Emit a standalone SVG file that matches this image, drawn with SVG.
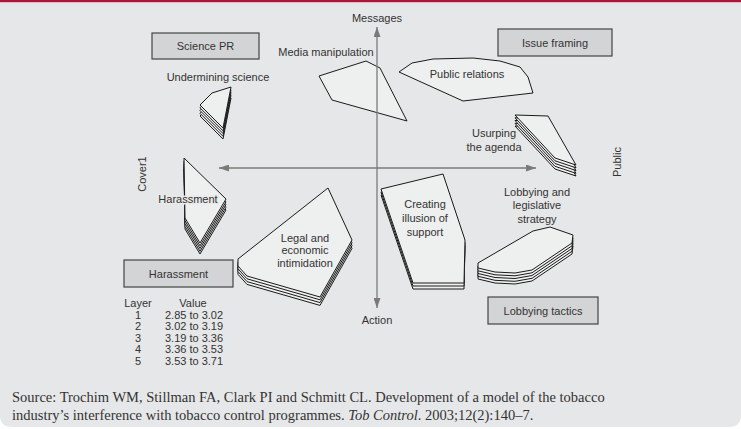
<svg xmlns="http://www.w3.org/2000/svg" xmlns:xlink="http://www.w3.org/1999/xlink" width="741" height="429" viewBox="0 0 741 429">
<style>
.bg{fill:#e6e7e8}
.shape{fill:#eeefef;stroke:#1a1a1a;stroke-width:1;stroke-linejoin:miter}
.box{fill:#d3d4d5;stroke:#444;stroke-width:1.2}
.lbl{font-family:"Liberation Sans",Arial,sans-serif;font-size:11px;fill:#333;text-anchor:middle}
.halo{paint-order:stroke;stroke:#e9eaea;stroke-width:3px;stroke-linejoin:round}
.leg{font-family:"Liberation Sans",Arial,sans-serif;font-size:11px;fill:#333}
.axis{stroke:#7a7a7a;stroke-width:1.3;fill:none}
.cap{font-family:"Liberation Serif","Times New Roman",serif;font-size:14.5px;fill:#333}
</style>
<defs>
<marker id="arr" viewBox="0 0 10 7" refX="10" refY="3.5" markerWidth="10" markerHeight="7" markerUnits="userSpaceOnUse" orient="auto-start-reverse">
<path d="M0,0 L10,3.5 L0,7 z" fill="#7a7a7a"/>
</marker>
<polygon id="p-under" points="200,105 212,93 231,87 223,128"/>
<polygon id="p-har" points="184,158 226,199 200,243 185,218"/>
<polygon id="p-usurp" points="515,115 548,116 576,165 555,158"/>
<polygon id="p-legal" points="238,259 328,188 352,240 320,297 247,276 238,266"/>
<polygon id="p-creat" points="381,189 443,174 465,240 464,283 413,283"/>
<polygon id="p-lobby" points="478,263 533,231 550,227 573,235 572,243 532,270 515,273 495,272 478,268"/>
</defs>
<rect x="0" y="0" width="741" height="429" fill="#ffffff"/>
<path class="bg" d="M0,2 H741 V415 Q741,427 729,427 H12 Q0,427 0,415 Z"/>
<rect x="0" y="0" width="741" height="2.2" fill="#a8173b"/>

<g id="node-undermining-science">
<use xlink:href="#p-under" class="shape" y="11"/>
<use xlink:href="#p-under" class="shape" y="8.3"/>
<use xlink:href="#p-under" class="shape" y="5.5"/>
<use xlink:href="#p-under" class="shape" y="2.8"/>
<use xlink:href="#p-under" class="shape"/>
<text class="lbl" x="218" y="81">Undermining science</text>
</g>

<g id="node-media-manipulation">
<polygon class="shape" points="319,76 366,61 380,68 407,121 332,100"/>
<text class="lbl" x="326" y="56">Media manipulation</text>
</g>

<g id="node-public-relations">
<polygon class="shape" points="399,72 412,63 433,59 473,58 500,61 520,67 528,77 533,93 463,101"/>
<text class="lbl" x="467" y="78">Public relations</text>
</g>

<g id="node-usurping">
<use xlink:href="#p-usurp" class="shape" y="11"/>
<use xlink:href="#p-usurp" class="shape" y="8.3"/>
<use xlink:href="#p-usurp" class="shape" y="5.5"/>
<use xlink:href="#p-usurp" class="shape" y="2.8"/>
<use xlink:href="#p-usurp" class="shape"/>
<text class="lbl" x="494" y="137">Usurping</text>
<text class="lbl" x="494" y="151">the agenda</text>
</g>

<g id="node-harassment">
<use xlink:href="#p-har" class="shape" y="11"/>
<use xlink:href="#p-har" class="shape" y="8.3"/>
<use xlink:href="#p-har" class="shape" y="5.5"/>
<use xlink:href="#p-har" class="shape" y="2.8"/>
<use xlink:href="#p-har" class="shape"/>
<text class="lbl halo" x="188" y="203">Harassment</text>
</g>

<g id="node-legal">
<use xlink:href="#p-legal" class="shape" y="8.4"/>
<use xlink:href="#p-legal" class="shape" y="5.6"/>
<use xlink:href="#p-legal" class="shape" y="2.8"/>
<use xlink:href="#p-legal" class="shape"/>
<text class="lbl" x="305" y="242">Legal and</text>
<text class="lbl" x="305" y="254">economic</text>
<text class="lbl" x="305" y="267">intimidation</text>
</g>

<g id="node-creating">
<use xlink:href="#p-creat" class="shape" y="6"/>
<use xlink:href="#p-creat" class="shape" y="3"/>
<use xlink:href="#p-creat" class="shape"/>
<text class="lbl" x="425" y="208">Creating</text>
<text class="lbl" x="425" y="222">illusion of</text>
<text class="lbl" x="425" y="236">support</text>
</g>

<g id="node-lobbying">
<use xlink:href="#p-lobby" class="shape" y="11"/>
<use xlink:href="#p-lobby" class="shape" y="8.3"/>
<use xlink:href="#p-lobby" class="shape" y="5.5"/>
<use xlink:href="#p-lobby" class="shape" y="2.8"/>
<use xlink:href="#p-lobby" class="shape"/>
<text class="lbl" x="537" y="196">Lobbying and</text>
<text class="lbl" x="537" y="209">legislative</text>
<text class="lbl" x="537" y="223">strategy</text>
</g>

<g id="connectors">
<line class="axis" x1="377" y1="27" x2="377" y2="308" marker-start="url(#arr)" marker-end="url(#arr)"/>
<line class="axis" x1="219" y1="168" x2="536" y2="168" marker-start="url(#arr)" marker-end="url(#arr)"/>
</g>

<g id="axis-labels">
<text class="lbl" x="377" y="22">Messages</text>
<text class="lbl" x="377" y="324">Action</text>
<text class="lbl" transform="translate(146,174) rotate(-90)">Cover1</text>
<text class="lbl" transform="translate(621,162) rotate(-90)">Public</text>
</g>

<g id="box-science-pr">
<rect class="box" x="152" y="33" width="107" height="26"/>
<text class="lbl" x="205.5" y="50">Science PR</text>
</g>
<g id="box-issue-framing">
<rect class="box" x="498" y="29" width="114" height="27"/>
<text class="lbl" x="555" y="46.5">Issue framing</text>
</g>
<g id="box-harassment">
<rect class="box" x="124" y="260" width="109" height="27"/>
<text class="lbl" x="178.5" y="277.5">Harassment</text>
</g>
<g id="box-lobbying-tactics">
<rect class="box" x="488" y="297" width="110" height="27"/>
<text class="lbl" x="543" y="314.5">Lobbying tactics</text>
</g>

<g id="legend">
<text class="lbl" x="138" y="307">Layer</text>
<text class="lbl" x="193" y="307">Value</text>
<text class="lbl" x="138" y="318.5">1</text>
<text class="leg" x="165" y="318.5">2.85 to 3.02</text>
<text class="lbl" x="138" y="330">2</text>
<text class="leg" x="165" y="330">3.02 to 3.19</text>
<text class="lbl" x="138" y="341.5">3</text>
<text class="leg" x="165" y="341.5">3.19 to 3.36</text>
<text class="lbl" x="138" y="353">4</text>
<text class="leg" x="165" y="353">3.36 to 3.53</text>
<text class="lbl" x="138" y="364.5">5</text>
<text class="leg" x="165" y="364.5">3.53 to 3.71</text>
</g>

<g id="caption">
<text class="cap" x="12" y="402">Source: Trochim WM, Stillman FA, Clark PI and Schmitt CL. Development of a model of the tobacco</text>
<text class="cap" x="12" y="420">industry’s interference with tobacco control programmes. <tspan font-style="italic">Tob Control</tspan>. 2003;12(2):140–7.</text>
</g>
</svg>
